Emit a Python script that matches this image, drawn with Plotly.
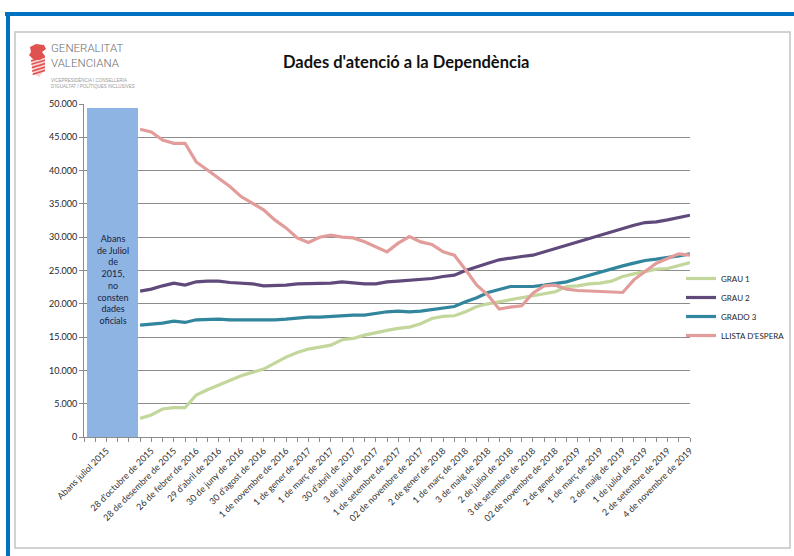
import plotly.graph_objects as go

# ---------------- data ----------------
tick_labels = [
    "Abans juliol 2015",
    "28 d'octubre de 2015", "28 de desembre de 2015", "26 de febrer de 2016",
    "29 d'abril de 2016", "30 de juny de 2016", "30 d'agost de 2016",
    "1 de novembre de 2016", "1 de gener de 2017", "1 de març de 2017",
    "30 d'abril de 2017", "3 de juliol de 2017", "1 de setembre de 2017",
    "02 de novembre de 2017", "2 de gener de 2018", "1 de març de 2018",
    "3 de maig de 2018", "2 de juliol de 2018", "3 de setembre de 2018",
    "02 de novembre de 2018", "2 de gener de 2019", "1 de març de 2019",
    "2 de maig de 2019", "1 de juliol de 2019", "2 de setembre de 2019",
    "4 de novembre de 2019",
]
# category index (month slot) of each labelled tick
tick_index = [2] + [6 + 2 * j for j in range(25)]

# monthly observation slots (one per month, Sep 2015 .. Nov 2019)
month_index = list(range(5, 55))

grau1 = [2800, 3300, 4200, 4400, 4400, 6300, 7100, 7800, 8500, 9200,
         9700, 10200, 11100, 12000, 12700, 13200, 13500, 13800, 14600, 14800,
         15300, 15700, 16000, 16300, 16500, 17000, 17800, 18100, 18200, 18800,
         19600, 20000, 20300, 20700, 20900, 21200, 21500, 21800, 22600, 22700,
         23000, 23100, 23400, 24100, 24500, 24800, 25200, 25300, 25700, 26200]
grau2 = [21900, 22200, 22700, 23100, 22800, 23300, 23400, 23400, 23200, 23100,
         23000, 22700, 22700, 22800, 23000, 23000, 23100, 23100, 23300, 23100,
         23000, 23000, 23300, 23400, 23500, 23600, 23800, 24100, 24300, 25000,
         25600, 26100, 26600, 26900, 27100, 27300, 27800, 28300, 28800, 29300,
         29800, 30300, 30800, 31400, 31800, 32200, 32300, 32600, 32900, 33300]
grado3 = [16800, 16900, 17100, 17400, 17200, 17600, 17700, 17700, 17600, 17600,
          17500, 17500, 17600, 17700, 17900, 18000, 18000, 18100, 18300, 18300,
          18300, 18600, 18800, 18900, 18800, 18900, 19100, 19300, 19600, 20300,
          20900, 21700, 22200, 22600, 22600, 22600, 22800, 23100, 23300, 23800,
          24300, 24800, 25300, 25700, 26100, 26500, 26700, 26900, 27200, 27500]
llista = [46200, 45800, 44600, 44100, 44100, 41300, 40100, 38900, 37600, 36100,
          35100, 34100, 32600, 31400, 29900, 29200, 30000, 30300, 30000, 29900,
          29300, 28600, 27800, 29100, 30100, 29300, 28900, 27800, 27300, 25100,
          22800, 21300, 19200, 19500, 19700, 21600, 22700, 22800, 22200, 22000,
          21900, 21800, 21700, 21700, 23600, 24800, 26100, 26800, 27500, 27300]

series_names = ["GRAU 1", "GRAU 2", "GRADO 3", "LLISTA D'ESPERA"]
series_values = [grau1, grau2, grado3, llista]
series_colors = ["#C3D69B", "#604A7B", "#31859C", "#E29D9B"]

# "no data" block before July 2015
nodata_center = [2.57]
nodata_width = [4.55]
nodata_height = [49400]
nodata_text = "Abans<br>de Juliol<br>de<br>2015,<br>no<br>consten<br>dades<br>oficials"

title_text = "Dades d'atenció a la Dependència"

# ---------------- figure ----------------
W, H = 794, 556
L, R, T, B = 84, 104, 104, 119
PW, PH = W - L - R, H - T - B


def px(x):
    return (x - L) / PW


def py(y):
    return (H - B - y) / PH


fig = go.Figure()

fig.add_trace(go.Bar(
    x=nodata_center, y=nodata_height, width=nodata_width,
    marker=dict(color="#8DB4E2", line=dict(width=0)),
    showlegend=False, hoverinfo="skip",
))

for name, vals, col in zip(series_names, series_values, series_colors):
    fig.add_trace(go.Scatter(
        x=month_index, y=vals, name=name, mode="lines",
        line=dict(color=col, width=3.2),
    ))

fig.add_annotation(
    x=nodata_center[0], y=23700, xref="x", yref="y", text=nodata_text,
    showarrow=False, font=dict(family="Lato", size=9, color="#1A2240"),
    align="center",
)

fig.add_annotation(
    x=px(405.5), y=py(62), xref="paper", yref="paper", text="<b>" + title_text + "</b>",
    showarrow=False, font=dict(family="Lato", size=16.5, color="#111111"),
    xanchor="center", yanchor="middle",
)

# logo text
fig.add_annotation(x=px(49), y=py(56), xref="paper", yref="paper", text="GENERALITAT<br>VALENCIANA",
                   showarrow=False, xanchor="left", yanchor="middle", align="left",
                   font=dict(family="Roboto", size=11.5, color="#6E6E6E", weight=300))
fig.add_annotation(x=px(49), y=py(82.5), xref="paper", yref="paper",
                   text="VICEPRESIDÈNCIA I CONSELLERIA<br>D'IGUALTAT I POLÍTIQUES INCLUSIVES",
                   showarrow=False, xanchor="left", yanchor="middle", align="left",
                   font=dict(family="Liberation Sans", size=4.5, color="#9a9a9a"))

shapes = []
# blue page frame
shapes.append(dict(type="rect", xref="paper", yref="paper", x0=px(5), x1=px(794), y0=py(12), y1=py(16),
                   fillcolor="#0070C0", line=dict(width=0), layer="below"))
shapes.append(dict(type="rect", xref="paper", yref="paper", x0=px(6), x1=px(10), y0=py(12), y1=py(556),
                   fillcolor="#0070C0", line=dict(width=0), layer="below"))
# grey chart frame
shapes.append(dict(type="rect", xref="paper", yref="paper", x0=px(15), x1=px(790), y0=py(32), y1=py(548),
                   fillcolor="rgba(0,0,0,0)", line=dict(color="#C4C4C4", width=1.5), layer="below"))
# logo emblem (stylised)
red = "#E0524F"


def path(points):
    s = "M " + " L ".join(f"{px(a):.5f},{py(b):.5f}" for a, b in points) + " Z"
    return s


shapes.append(dict(type="path", xref="paper", yref="paper",
                   path=path([(30, 47), (36, 44), (44, 45), (46, 49), (42, 52), (45, 56),
                              (40, 60), (33, 59), (29, 55), (31, 52)]),
                   fillcolor=red, line=dict(width=0)))
for k in range(5):
    y0 = 60 + k * 3.4
    shapes.append(dict(type="path", xref="paper", yref="paper",
                       path=path([(31 + k * 0.4, y0), (45, y0 - 4), (45, y0 - 2.3), (31 + k * 0.4, y0 + 1.7)]),
                       fillcolor=red, line=dict(width=0)))
shapes.append(dict(type="path", xref="paper", yref="paper",
                   path=path([(31, 60), (45, 56), (45, 70), (39, 77), (33, 73)]),
                   fillcolor="rgba(224,82,79,0.25)", line=dict(width=0)))

fig.update_layout(
    width=W, height=H, autosize=False,
    margin=dict(l=L, r=R, t=T, b=B, pad=0, autoexpand=False),
    paper_bgcolor="white", plot_bgcolor="white",
    separators=",.",
    font=dict(family="Lato", size=9, color="#262626"),
    shapes=shapes,
    bargap=0,
    legend=dict(
        xref="container", yref="container",
        x=681 / W, y=1 - 264 / H, xanchor="left", yanchor="top",
        font=dict(family="Lato", size=8, color="#262626"),
        bgcolor="rgba(0,0,0,0)", itemwidth=30, tracegroupgap=0,
    ),
    xaxis=dict(
        range=[0, 54], tickmode="array", tickvals=tick_index, ticktext=tick_labels,
        tickangle=-45, ticks="outside", ticklen=4, tickcolor="#8C8C8C",
        showline=True, linecolor="#8C8C8C", linewidth=1,
        showgrid=False, zeroline=False, automargin=False,
        tickfont=dict(family="Lato", size=9, color="#303030"),
        minor=dict(ticks="outside", dtick=1, tick0=0, ticklen=4, tickcolor="#8C8C8C", showgrid=False),
    ),
    yaxis=dict(
        range=[0, 50000], dtick=5000, tickformat=",d",
        ticks="outside", ticklen=4, tickcolor="#8C8C8C",
        showline=True, linecolor="#8C8C8C", linewidth=1, automargin=False,
        showgrid=True, gridcolor="#8C8C8C", gridwidth=1, zeroline=False,
        tickfont=dict(family="Lato", size=9, color="#262626"),
    ),
)

fig.write_html(
    "out.html",
    config={"responsive": False, "displayModeBar": False},
    post_script="document.body.style.margin='0';document.body.style.padding='0';"
                "document.body.style.overflow='hidden';",
)
